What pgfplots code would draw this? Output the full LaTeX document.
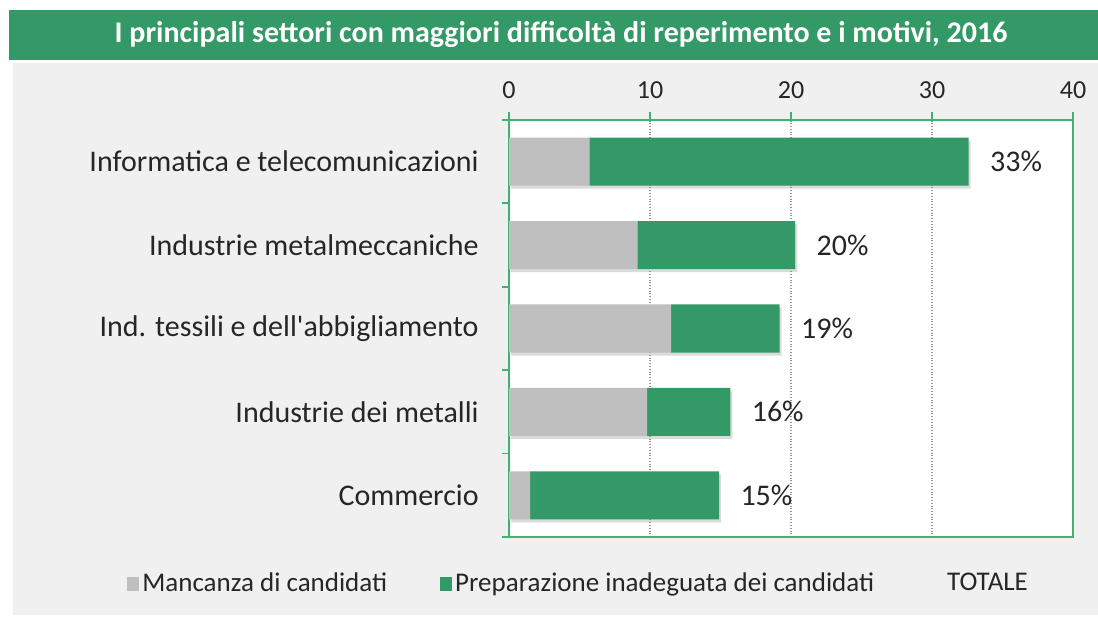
\documentclass[border=0pt]{standalone}
\usepackage{fontspec}
\setmainfont{Carlito}
\usepackage{pgfplots}
\pgfplotsset{compat=1.18}

\definecolor{barGreen}{RGB}{51,153,102}
\definecolor{barGray}{RGB}{191,191,191}
\definecolor{axGreen}{RGB}{66,176,110}
\definecolor{panel}{RGB}{240,240,240}
\definecolor{gridGray}{RGB}{150,150,150}

% 1 px of the reference = 0.5bp; axis box from (509,82) px, 564 x 417 px
\pgfplotsset{
  frame/.style={
    at={(254.5bp,41bp)}, anchor=south west,
    scale only axis, width=282bp, height=208.5bp,
    xmin=0, xmax=40, ymin=-0.5, ymax=4.5,
  },
}

\begin{document}
\begin{tikzpicture}[x=0.5bp,y=0.5bp]
  \fill[white] (0,0) rectangle (1098,619);
  \fill[panel] (13,4) rectangle (1098,556);
  \fill[barGreen] (9,559) rectangle (1098,609);
  \node[text=white, font=\bfseries\fontsize{15bp}{17bp}\selectfont] at (561,584)
    {I principali settori con maggiori difficoltà di reperimento e i motivi, 2016};
  \fill[white] (509,82) rectangle (1073,499);

  % soft shadow under each whole bar
  \begin{axis}[frame, hide axis, xbar, bar width=0.576]
    \addplot[fill=black, draw=none, opacity=0.14,
        transform canvas={xshift=1bp, yshift=-1.5bp}] coordinates
      {(14.9,0) (15.7,1) (19.2,2) (20.3,3) (32.6,4)};
  \end{axis}

  \begin{axis}[
      frame,
      xbar stacked, bar width=0.576,
      xtick={0,10,...,40},
      ytick={0,1,2,3,4},
      yticklabels={Commercio, Industrie dei metalli, Ind. tessili e dell\textquotesingle abbigliamento,
                   Industrie metalmeccaniche, Informatica e telecomunicazioni},
      minor ytick={-0.5,0.5,...,4.5},
      axis line style={axGreen, line width=0.9bp},
      tick align=outside,
      xtick pos=right, xticklabel pos=right,
      ytick pos=left,
      major tick length=4bp, minor tick length=3.5bp,
      y tick style={draw=none},
      minor y tick style={draw=axGreen, line width=0.9bp},
      x tick style={axGreen, line width=0.9bp},
      xmajorgrids, grid style={gridGray, densely dotted, line width=0.6bp},
      /pgf/number format/assume math mode=true,
      xticklabel style={font=\fontsize{13bp}{15bp}\selectfont, text=black!85, yshift=3bp},
      yticklabel style={font=\fontsize{15bp}{17bp}\selectfont, text=black!85, inner sep=0pt, xshift=-11bp},
      legend columns=3,
      legend style={at={(-0.688,-0.112)}, anchor=west, draw=none, fill=none,
                    font=\fontsize{13.5bp}{15bp}\selectfont, text=black!85,
                    nodes={inner xsep=1.5bp},
                    /tikz/every even column/.append style={column sep=25bp}},
      legend image code/.code={\fill[#1] (0bp,-3.5bp) rectangle (6bp,3.5bp);},
    ]
    \addplot[fill=barGray, draw=none] coordinates
      {(1.5,0) (9.8,1) (11.5,2) (9.1,3) (5.7,4)};
    \addlegendentry{Mancanza di candidati}
    \addplot[fill=barGreen, draw=none] coordinates
      {(13.4,0) (5.9,1) (7.7,2) (11.2,3) (26.9,4)};
    \addlegendentry{Preparazione inadeguata dei candidati}
    \addlegendimage{empty legend}
    \addlegendentry{\hspace*{8.5bp}TOTALE}
  \end{axis}

  % totals written just right of each stacked bar
  \begin{axis}[frame, hide axis]
    \addplot[draw=none, mark=none, point meta=explicit symbolic, nodes near coords,
        every node near coord/.append style={anchor=west, inner sep=0pt, xshift=10.5bp,
          font=\fontsize{15bp}{17bp}\selectfont, text=black!85}]
      coordinates {(14.9,0) [15\%] (15.7,1) [16\%] (19.2,2) [19\%] (20.3,3) [20\%] (32.6,4) [33\%]};
  \end{axis}
  \pgfresetboundingbox
  \path (0,0) rectangle (1098,619);
\end{tikzpicture}
\end{document}
